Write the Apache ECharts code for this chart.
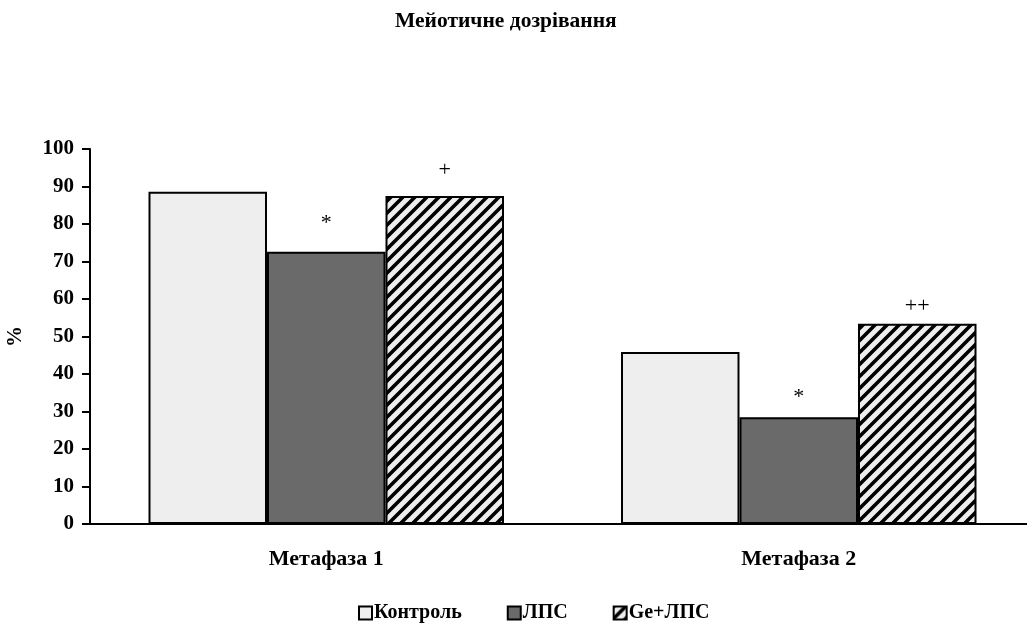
<!DOCTYPE html>
<html>
<head>
<meta charset="utf-8">
<script src="https://cdn.jsdelivr.net/npm/echarts@6/dist/echarts.min.js"></script>
<style>html,body{margin:0;padding:0;background:#fff;}#c{width:1027px;height:625px;}</style>
</head>
<body>
<div id="c"></div>
<script>
var categories = ['Метафаза 1', 'Метафаза 2'];
var seriesNames = ['Контроль', 'ЛПС', 'Ge+ЛПС'];
var controlValues = [88.6, 45.9];
var lpsValues = [72.6, 28.5];
var geLpsValues = [87.5, 53.4];
var lpsMarks = ['*', '*'];
var geLpsMarks = ['+', '++'];
var yTicks = [0, 10, 20, 30, 40, 50, 60, 70, 80, 90, 100];

// label styling (distance above bar, px)
var lpsMarkDist = [18, 9];
var geLpsMarkDist = [15, 7];

var FONT = '"Liberation Serif", "Times New Roman", serif';

function makeHatch() {
  var s = 12;
  var c = document.createElement('canvas');
  c.width = s; c.height = s;
  var g = c.getContext('2d');
  g.fillStyle = '#eeeeee';
  g.fillRect(0, 0, s, s);
  g.strokeStyle = '#000';
  g.lineWidth = 3.6;
  g.beginPath();
  g.moveTo(-2, s + 2); g.lineTo(s + 2, -2);
  g.moveTo(-2, 2); g.lineTo(2, -2);
  g.moveTo(s - 2, s + 2); g.lineTo(s + 2, s - 2);
  g.stroke();
  return c;
}
var hatch = { image: makeHatch(), repeat: 'repeat' };

function withMarks(values, marks, dists) {
  return values.map(function (v, i) {
    return {
      value: v,
      label: {
        show: true,
        position: 'top',
        distance: dists[i],
        formatter: marks[i],
        fontFamily: FONT,
        fontSize: 22,
        fontWeight: 'normal',
        color: '#000'
      }
    };
  });
}

var chart = echarts.init(document.getElementById('c'), null, { renderer: 'canvas' });
chart.setOption({
  animation: false,
  backgroundColor: '#fff',
  title: {
    text: 'Мейотичне дозрівання',
    left: 390,
    top: 5,
    textStyle: { fontFamily: FONT, fontSize: 21.5, fontWeight: 'bold', color: '#000' }
  },
  legend: {
    data: seriesNames,
    left: 353,
    top: 598,
    itemWidth: 13,
    itemHeight: 13,
    itemGap: 45,
    icon: 'rect',
    textStyle: { fontFamily: FONT, fontSize: 20, fontWeight: 'bold', color: '#000', padding: [0, 0, 0, -3] }
  },
  grid: { left: 90, right: -8, top: 149, bottom: 101, containLabel: false, outerBoundsMode: 'none' },
  xAxis: {
    type: 'category',
    data: categories,
    axisLine: { lineStyle: { color: '#000', width: 2 } },
    axisTick: { show: false },
    axisLabel: { margin: 24, fontFamily: FONT, fontSize: 22, fontWeight: 'bold', color: '#000' }
  },
  yAxis: {
    type: 'value',
    min: yTicks[0],
    max: yTicks[yTicks.length - 1],
    interval: yTicks[1] - yTicks[0],
    name: '%',
    nameLocation: 'middle',
    nameGap: 64,
    nameRotate: 90,
    nameTextStyle: { fontFamily: FONT, fontSize: 21, fontWeight: 'bold', color: '#000' },
    axisLine: { show: true, lineStyle: { color: '#000', width: 2 } },
    axisTick: { show: true, length: 8, lineStyle: { color: '#000', width: 2 } },
    axisLabel: { margin: 16, fontFamily: FONT, fontSize: 21, fontWeight: 'bold', color: '#000' },
    splitLine: { show: false }
  },
  series: [
    {
      name: seriesNames[0], type: 'bar', data: controlValues,
      barWidth: 118.5, barGap: '0%',
      itemStyle: { color: '#eeeeee', borderColor: '#000', borderWidth: 2 }
    },
    {
      name: seriesNames[1], type: 'bar', data: withMarks(lpsValues, lpsMarks, lpsMarkDist),
      barWidth: 118.5, barGap: '0%',
      itemStyle: { color: '#6a6a6a', borderColor: '#000', borderWidth: 2 }
    },
    {
      name: seriesNames[2], type: 'bar', data: withMarks(geLpsValues, geLpsMarks, geLpsMarkDist),
      barWidth: 118.5, barGap: '0%',
      itemStyle: { color: hatch, borderColor: '#000', borderWidth: 2 }
    }
  ]
});
</script>
</body>
</html>
